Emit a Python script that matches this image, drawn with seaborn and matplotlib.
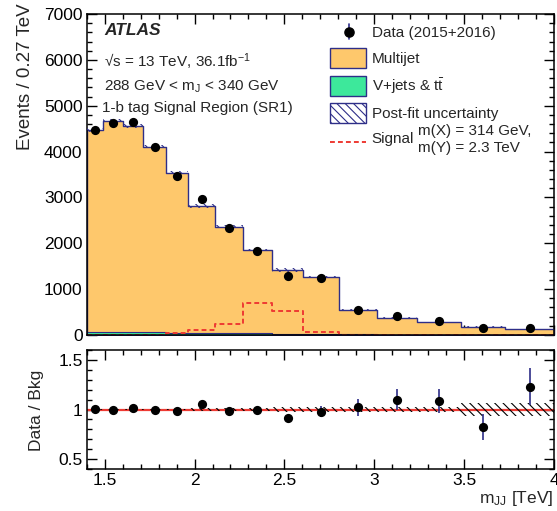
import numpy as np
import pandas as pd
import matplotlib
matplotlib.use("Agg")
import matplotlib.pyplot as plt
import seaborn as sns
from matplotlib.patches import Rectangle
from matplotlib.lines import Line2D
from matplotlib.ticker import MultipleLocator

# Variable-width m_JJ bins [TeV]
bin_edges = [1.40, 1.49, 1.60, 1.715, 1.84, 1.965, 2.115, 2.27, 2.43,
             2.605, 2.805, 3.015, 3.235, 3.48, 3.73, 4.00]
# Post-fit background expectation (events / 0.27 TeV)
multijet = [4400, 4608, 4497, 4051, 3489, 2768, 2322, 1820, 1390, 1243,
            530, 370, 270, 170, 119]
vjets_ttbar = [70, 65, 60, 55, 50, 45, 40, 33, 27, 22, 15, 10, 7, 5, 3]
# Observed data and its statistical uncertainty
data = [4475, 4630, 4645, 4100, 3470, 2965, 2325, 1842, 1290, 1236,
        556, 418, 300, 144, 150]
data_err = [67, 69, 70, 70, 69, 65, 58, 52, 45, 72, 47, 39, 34, 23, 23]
# Relative post-fit background uncertainty
bkg_rel_unc = [0.008, 0.008, 0.008, 0.009, 0.010, 0.012, 0.014, 0.016,
               0.025, 0.025, 0.025, 0.025, 0.025, 0.070, 0.070]
# Signal hypothesis m(X) = 314 GeV, m(Y) = 2.3 TeV
signal = [0, 0, 0, 0, 40, 110, 240, 690, 525, 55, 0, 0, 0, 0, 0]

ORANGE = "#FEC86C"
GREEN = "#3DE89B"
NAVY = "#2E2E88"
RED = "#EE3A33"

sns.set_style("ticks")
plt.rcParams.update({
    "font.family": ["Liberation Sans", "DejaVu Sans"],
    "mathtext.fontset": "custom",
    "mathtext.rm": "Liberation Sans",
    "mathtext.it": "Liberation Sans:italic",
    "mathtext.bf": "Liberation Sans:bold",
    "hatch.linewidth": 0.8,
    "axes.linewidth": 1.1,
    "axes.edgecolor": "black",
    "xtick.color": "black",
    "ytick.color": "black",
})

W, H = 557, 511
fig = plt.figure(figsize=(W / 100, H / 100), dpi=100)


def fx(px):
    return px / W


def fy(py):
    return 1 - py / H


L, R = 86.7, 554
ax = fig.add_axes([fx(L), fy(335), fx(R) - fx(L), fy(14) - fy(335)])
axr = fig.add_axes([fx(L), fy(469), fx(R) - fx(L), fy(350) - fy(469)])

edges = np.array(bin_edges)
centers = 0.5 * (edges[:-1] + edges[1:])
mj = np.array(multijet, float)
vj = np.array(vjets_ttbar, float)
total = mj + vj
d = np.array(data, float)
derr = np.array(data_err, float)
rel = np.array(bkg_rel_unc)

hist = pd.DataFrame({"m": centers, "total": total, "vj": vj,
                     "sig": np.array(signal, float)})

# Stacked background: multijet on top of V+jets & ttbar
sns.histplot(data=hist, x="m", weights="total", bins=bin_edges,
             element="step", fill=True, color=ORANGE, alpha=1,
             edgecolor=NAVY, linewidth=1.0, ax=ax)
sns.histplot(data=hist, x="m", weights="vj", bins=bin_edges,
             element="step", fill=True, color=GREEN, alpha=1,
             edgecolor=NAVY, linewidth=0.8, ax=ax)

# Post-fit uncertainty band
lo = np.append(total * (1 - rel), total[-1] * (1 - rel[-1]))
hi = np.append(total * (1 + rel), total[-1] * (1 + rel[-1]))
ax.fill_between(edges, lo, hi, step="post", facecolor="none",
                edgecolor=NAVY, hatch="\\\\\\\\", linewidth=0, zorder=3)

# Signal
sns.histplot(data=hist, x="m", weights="sig", bins=bin_edges,
             element="step", fill=False, color=RED,
             linestyle=(0, (2.5, 1.6)), linewidth=1.4, ax=ax)

# Data
ax.errorbar(centers, d, yerr=derr, fmt="none", ecolor=NAVY, elinewidth=1.2,
            zorder=4)
sns.scatterplot(x=centers, y=d, color="black", s=44, linewidth=0, zorder=5,
                ax=ax)

# Ratio panel
ratio = d / total
ratio_err = derr / total
rlo = np.append(1 - rel, 1 - rel[-1])
rhi = np.append(1 + rel, 1 + rel[-1])
axr.axhline(1.0, color=RED, linewidth=1.6, zorder=2)
axr.fill_between(edges, rlo, rhi, step="post", facecolor="none",
                 edgecolor="black", hatch="\\\\\\\\", linewidth=0, zorder=3)
axr.errorbar(centers, ratio, yerr=ratio_err, fmt="none", ecolor=NAVY,
             elinewidth=1.2, zorder=4)
sns.scatterplot(x=centers, y=ratio, color="black", s=44, linewidth=0,
                zorder=5, ax=axr)

for a in (ax, axr):
    a.set_xlim(1.4, 4.0)
    a.set_xlabel("")
    a.set_ylabel("")
    a.xaxis.set_major_locator(MultipleLocator(0.5))
    a.xaxis.set_minor_locator(MultipleLocator(0.1))
    a.tick_params(which="both", direction="in", top=True, right=True,
                  labelsize=12.5, pad=3, width=1.0)
    a.tick_params(which="major", length=7)
    a.tick_params(which="minor", length=3.8)
    for s in a.spines.values():
        s.set_visible(True)
        s.set_linewidth(1.1)

ax.set_ylim(0, 7000)
ax.yaxis.set_major_locator(MultipleLocator(1000))
ax.yaxis.set_minor_locator(MultipleLocator(200))
ax.tick_params(labelbottom=False)

axr.set_ylim(0.4, 1.6)
axr.yaxis.set_major_locator(MultipleLocator(0.5))
axr.yaxis.set_minor_locator(MultipleLocator(0.1))
axr.set_yticks([0.5, 1.0, 1.5])
axr.set_yticklabels(["0.5", "1", "1.5"])
axr.set_xticks([1.5, 2.0, 2.5, 3.0, 3.5, 4.0])
axr.set_xticklabels(["1.5", "2", "2.5", "3", "3.5", "4"])

# Axis titles
fig.text(fx(26), fy(3), "Events / 0.27 TeV", rotation=90, ha="center",
         va="top", fontsize=13.5)
fig.text(fx(36), fy(410), "Data / Bkg", rotation=90, ha="center",
         va="center", fontsize=12.5)
fig.text(fx(553), fy(503), r"m$_{\mathrm{JJ}}$ [TeV]", ha="right",
         va="baseline", fontsize=12.5)

# Labels
fig.text(fx(104), fy(35), "ATLAS", fontsize=12.5, fontweight="bold",
         fontstyle="italic", va="baseline")
fig.text(fx(104), fy(67), "√s = 13 TeV, 36.1fb$^{-1}$", fontsize=11,
         va="baseline")
fig.text(fx(104), fy(90.7), r"288 GeV < m$_{\mathrm{J}}$ < 340 GeV",
         fontsize=11, va="baseline")
fig.text(fx(102), fy(112), "1-b tag Signal Region (SR1)", fontsize=11,
         va="baseline")

# Legend
fig.add_artist(Line2D([fx(349.3)] * 2, [fy(24.3), fy(39)], color=NAVY,
                      lw=1.2))
fig.add_artist(Line2D([fx(349.3)], [fy(31.7)], marker="o", ms=6.6,
                      color="black", lw=0))
boxes = [(48.3, ORANGE, None), (76.0, GREEN, None),
         (103.5, "white", "\\\\\\\\")]
for top, fc, hatch in boxes:
    fig.add_artist(Rectangle((fx(330), fy(top + 20)), fx(365.7) - fx(330),
                             fy(top) - fy(top + 20), facecolor=fc,
                             edgecolor=NAVY, lw=1.0, hatch=hatch))
fig.add_artist(Line2D([fx(330), fx(365.7)], [fy(141.7)] * 2, color=RED,
                      ls=(0, (2.5, 1.6)), lw=1.4))
legend_text = [(37.5, "Data (2015+2016)"), (63.5, "Multijet"),
               (90.5, r"V+jets & t$\bar{\mathrm{t}}$"),
               (118, "Post-fit uncertainty"), (143.5, "Signal")]
for base, txt in legend_text:
    fig.text(fx(371.5), fy(base), txt, fontsize=11, va="baseline")
fig.text(fx(418), fy(135), "m(X) = 314 GeV,", fontsize=11, va="baseline")
fig.text(fx(418), fy(152), "m(Y) = 2.3 TeV", fontsize=11, va="baseline")

fig.savefig("out.png", dpi=100)
